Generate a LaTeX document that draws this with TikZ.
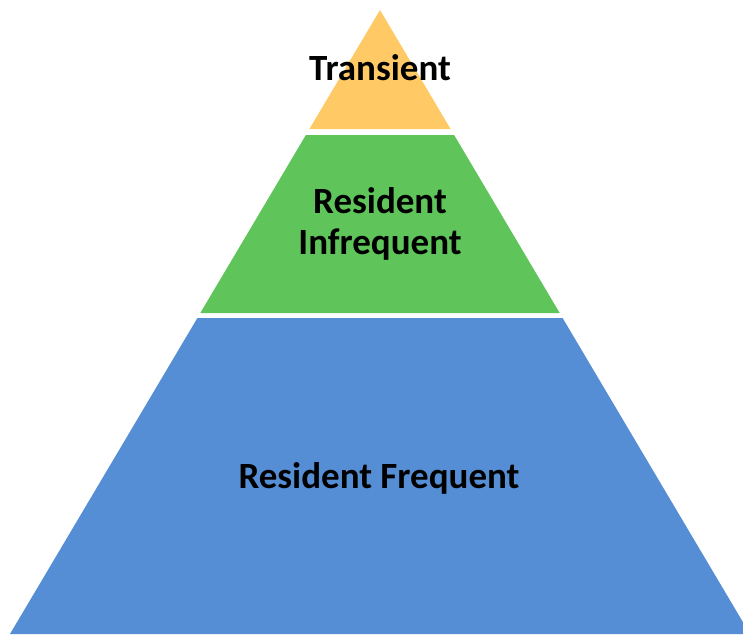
\documentclass[tikz,border=0pt]{standalone}
\usepackage{fontspec}
\setmainfont{Carlito}
\definecolor{tierorange}{HTML}{FFCA65}
\definecolor{tiergreen}{HTML}{5FC55A}
\definecolor{tierblue}{HTML}{558ED5}
\begin{document}
\begin{tikzpicture}[x=1pt,y=-1pt,
  label/.style={font=\bfseries\fontsize{37}{42}\selectfont,text=black,align=center,inner sep=0pt}]
\useasboundingbox (0,0) rectangle (743,634);
\clip (0,0) rectangle (743,634);
\fill[tierorange] (380,10) -- (450.6,129) -- (309.4,129) -- cycle;
\fill[tiergreen] (305.9,135) -- (454.1,135) -- (559.7,313) -- (200.3,313) -- cycle;
\fill[tierblue] (197.4,318) -- (562.6,318) -- (750,634) -- (10,634) -- cycle;
\node[label,anchor=base] (transient) at (380,80) {Transient};
\node[label,anchor=base] (resident) at (380,213) {Resident};
\node[label,anchor=base] (infrequent) at (380,254) {Infrequent};
\node[label,anchor=base] (frequent) at (379,488) {Resident Frequent};
\end{tikzpicture}
\end{document}
